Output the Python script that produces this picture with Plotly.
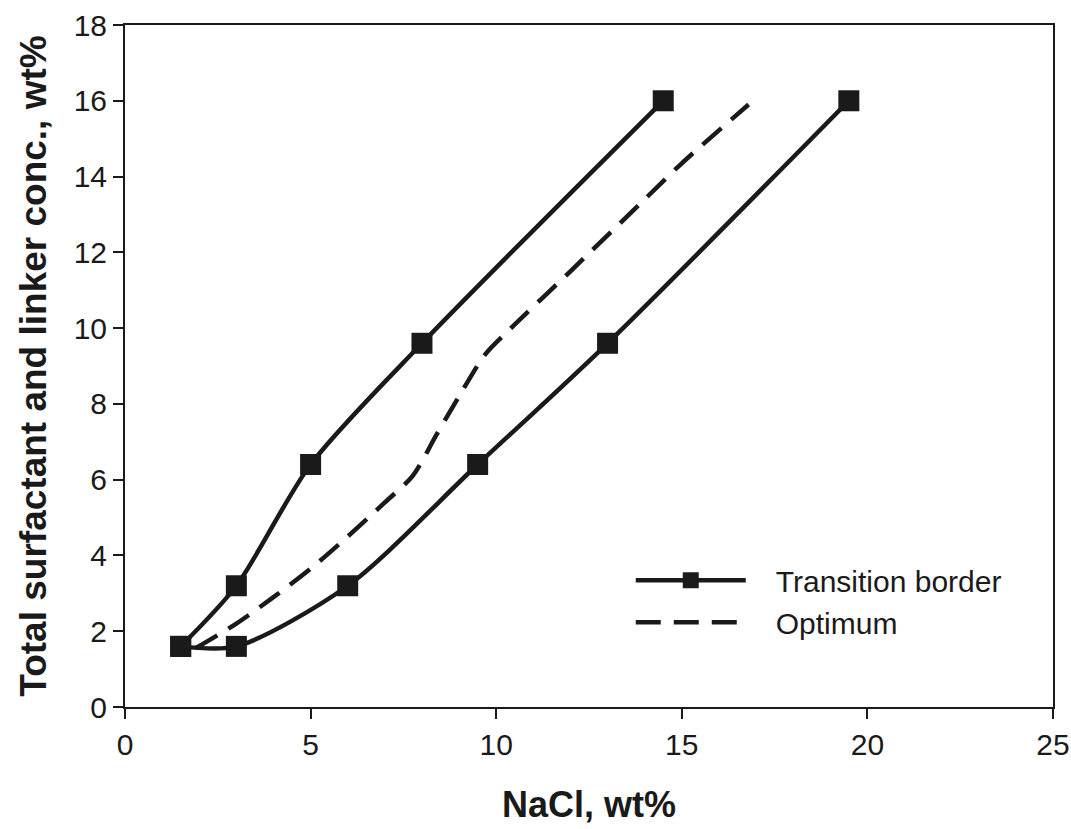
import plotly.graph_objects as go

# Transition border: upper branch and lower branch (share the start point)
upper_x = [1.5, 3, 5, 8, 14.5]
upper_y = [1.6, 3.2, 6.4, 9.6, 16]
lower_x = [1.5, 3, 6, 9.5, 13, 19.5]
lower_y = [1.6, 1.6, 3.2, 6.4, 9.6, 16]

# Optimum (dashed curve)
opt_x = [1.9, 3.0, 4.0, 5.0, 6.0, 7.0, 7.75, 8.4, 9.0, 9.7, 10.4, 12.0, 14.0, 15.0, 16.8]
opt_y = [1.55, 2.2, 2.9, 3.65, 4.5, 5.4, 6.1, 7.2, 8.2, 9.3, 10.0, 11.5, 13.4, 14.35, 15.9]

x_ticks = [0, 5, 10, 15, 20, 25]
y_ticks = [0, 2, 4, 6, 8, 10, 12, 14, 16, 18]

INK = "#1a1a1a"
FONT = "Liberation Sans, Arial, sans-serif"
GAP = "\u00a0\u00a0\u00a0"

fig = go.Figure()
fig.add_trace(go.Scatter(
    x=upper_x, y=upper_y, mode="lines+markers", name=GAP + "Transition border",
    line=dict(color=INK, width=4.5, shape="spline", smoothing=0.8),
    marker=dict(symbol="square", size=21, color=INK),
))
fig.add_trace(go.Scatter(
    x=lower_x, y=lower_y, mode="lines+markers", name="Transition border",
    showlegend=False,
    line=dict(color=INK, width=4.5, shape="spline", smoothing=0.8),
    marker=dict(symbol="square", size=21, color=INK),
))
fig.add_trace(go.Scatter(
    x=opt_x, y=opt_y, mode="lines", name=GAP + "Optimum",
    line=dict(color=INK, width=4.5, dash="25px,13px", shape="spline", smoothing=0.8),
))

axis_common = dict(
    showline=True, linecolor=INK, linewidth=2, mirror=True,
    ticks="outside", ticklen=10, tickwidth=2, tickcolor=INK,
    showgrid=False, zeroline=False, automargin=False,
    tickfont=dict(family=FONT, size=30, color=INK),
)

fig.update_layout(
    margin=dict(l=125, r=18, t=25, b=122),
    paper_bgcolor="white", plot_bgcolor="white",
    font=dict(family=FONT, color=INK),
    xaxis=dict(range=[0, 25], tickvals=x_ticks, **axis_common,
               title=dict(text="<b>NaCl, wt%</b>", font=dict(family=FONT, size=36, color=INK), standoff=32)),
    yaxis=dict(range=[0, 18], tickvals=y_ticks, **axis_common,
               title=dict(text="<b>Total surfactant and linker conc., wt%</b>", font=dict(family=FONT, size=37, color=INK), standoff=16)),
    legend=dict(x=0.545, y=0.224, xanchor="left", yanchor="top",
                font=dict(family=FONT, size=30, color=INK),
                bgcolor="rgba(0,0,0,0)", itemwidth=110, tracegroupgap=0),
    showlegend=True,
)

fig.write_html("out.html", default_width="1071px", default_height="829px")
